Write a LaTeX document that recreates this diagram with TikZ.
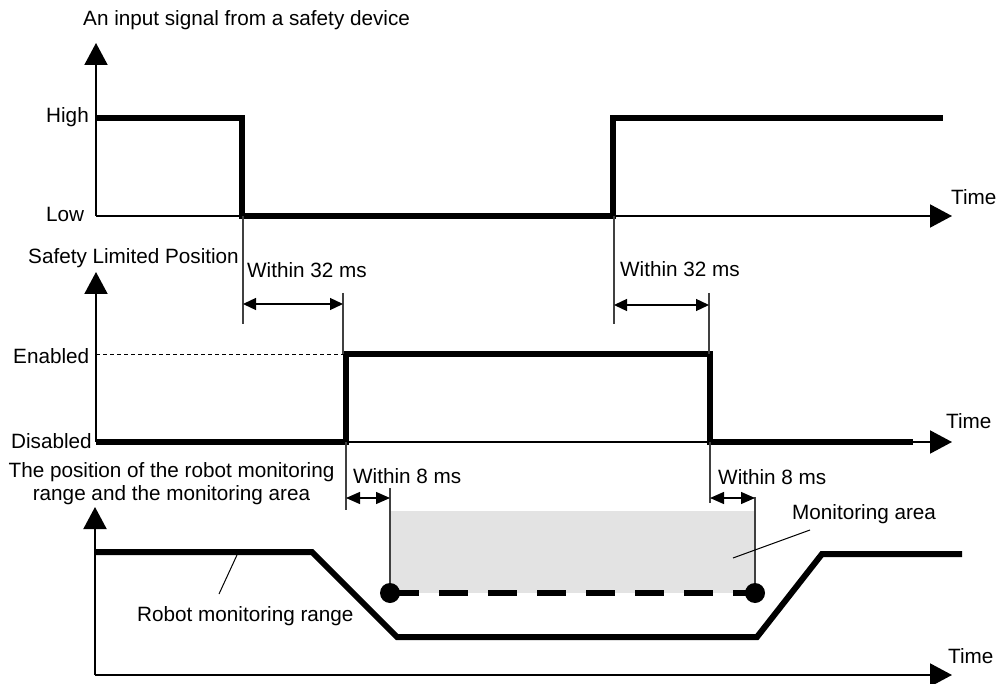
\documentclass[tikz,border=0pt]{standalone}
\usepackage{fontspec}
\setmainfont{Liberation Sans}
\usetikzlibrary{arrows.meta}
\begin{document}
\begin{tikzpicture}[x=1pt,y=-1pt,
  every node/.style={inner sep=0pt, font=\fontsize{20.7}{24}\selectfont},
  lbl/.style={anchor=base west},
  axis/.style={line width=2pt, -{Triangle[length=22pt,width=23pt]}},
  sig/.style={line width=6pt, line join=miter, line cap=butt},
  guideln/.style={line width=1.2pt, black!75},
  dimlong/.style={line width=1.3pt, {Triangle[length=13pt,width=12pt]}-{Triangle[length=13pt,width=12pt]}},
  dimshort/.style={line width=1.3pt, {Triangle[length=14pt,width=12pt]}-{Triangle[length=14pt,width=12pt]}},
  leader/.style={line width=1pt}
]
\useasboundingbox (0,0) rectangle (998,684);

% ---------- panel 1 ----------
\node[lbl] (t1) at (83,26) {An input signal from a safety device};
\node[lbl] (high) at (46,123) {High};
\node[lbl] (low) at (46,222) {Low};
\node[lbl] (time1) at (951,205) {Time};
\coordinate (o1) at (96,216);
\coordinate (y1) at (96,43);
\coordinate (x1) at (952,216);
\draw[axis] (o1) -- (y1);
\draw[axis] (o1) -- (x1);
\draw[sig] (96,118) -- (242,118) -- (242,216) -- (613,216) -- (613,118) -- (943,118);

% ---------- panel 2 ----------
\node[lbl] (t2) at (28,264) {Safety Limited Position};
\node[lbl] (en) at (13,363) {Enabled};
\node[lbl] (dis) at (11,448) {Disabled};
\node[lbl] (time2) at (946,428) {Time};
\coordinate (o2) at (96,442);
\coordinate (y2) at (96,272);
\coordinate (x2) at (952,442);
\draw[line width=0.9pt, dash pattern=on 4pt off 3pt] (96,354) -- (343,354);
\draw[axis] (o2) -- (y2);
\draw[axis] (o2) -- (x2);
\draw[sig] (96,442) -- (346,442) -- (346,354) -- (710,354) -- (710,442) -- (913,442);

% 32 ms markers
\coordinate (a1t) at (243,216); \coordinate (a1b) at (243,324);
\coordinate (a2t) at (343,293); \coordinate (a2b) at (343,354);
\draw[guideln] (a1t) -- (a1b);
\draw[guideln] (a2t) -- (a2b);
\coordinate (d1a) at (243,304); \coordinate (d1b) at (343,304);
\draw[dimlong] (d1a) -- (d1b);
\node[lbl] (w1) at (247,278) {Within 32 ms};

\coordinate (a3t) at (614,216); \coordinate (a3b) at (614,324);
\coordinate (a4t) at (709,293); \coordinate (a4b) at (709,354);
\draw[guideln] (a3t) -- (a3b);
\draw[guideln] (a4t) -- (a4b);
\coordinate (d2a) at (614,305); \coordinate (d2b) at (709,305);
\draw[dimlong] (d2a) -- (d2b);
\node[lbl] (w2) at (620,277) {Within 32 ms};

% ---------- panel 3 ----------
\node[anchor=base] (t3a) at (171.5,477) {The position of the robot monitoring};
\node[anchor=base] (t3b) at (171.5,500) {range and the monitoring area};
\node[lbl] (time3) at (948,663) {Time};

\fill[black!11] (390,511) rectangle (755,593);

\coordinate (o3) at (95,675);
\coordinate (y3) at (95,507);
\coordinate (x3) at (952,675);
\draw[axis] (o3) -- (y3);
\draw[axis] (o3) -- (x3);

\draw[sig] (96,552) -- (312,552) -- (397,637) -- (757,637) -- (822,554) -- (962,554);

% 8 ms markers
\coordinate (b1t) at (346,442); \coordinate (b1b) at (346,510);
\coordinate (b2t) at (390,488); \coordinate (b2b) at (390,593);
\draw[guideln] (b1t) -- (b1b);
\draw[guideln] (b2t) -- (b2b);
\coordinate (e1a) at (346,498); \coordinate (e1b) at (390,498);
\draw[dimshort] (e1a) -- (e1b);
\node[lbl] (w3) at (353,483) {Within 8 ms};

\coordinate (b3t) at (710,442); \coordinate (b3b) at (710,503);
\coordinate (b4t) at (755,497); \coordinate (b4b) at (755,593);
\draw[guideln] (b3t) -- (b3b);
\draw[guideln] (b4t) -- (b4b);
\coordinate (e2a) at (710,498); \coordinate (e2b) at (755,498);
\draw[dimshort] (e2a) -- (e2b);
\node[lbl] (w4) at (718,484) {Within 8 ms};

% monitoring area boundary
\coordinate (p1) at (390,593);
\coordinate (p2) at (755,593);
\draw[line width=6pt, dash pattern=on 29pt off 20pt] (p1) -- (p2);
\fill (p1) circle[radius=10pt];
\fill (p2) circle[radius=10pt];

% labels with leaders
\node[lbl] (rmr) at (137,621) {Robot monitoring range};
\coordinate (l1a) at (237,555); \coordinate (l1b) at (219,594);
\draw[leader] (l1a) -- (l1b);
\node[lbl] (ma) at (792,519) {Monitoring area};
\coordinate (l2a) at (810,530); \coordinate (l2b) at (733,558);
\draw[leader] (l2a) -- (l2b);
\end{tikzpicture}
\end{document}
